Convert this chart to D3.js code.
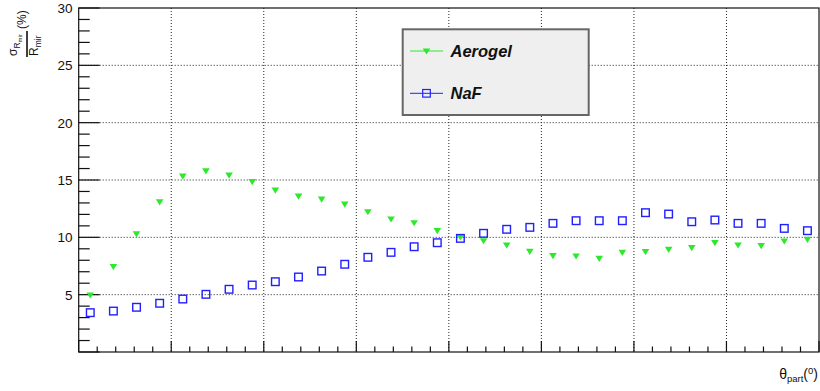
<!DOCTYPE html>
<html>
<head>
<meta charset="utf-8">
<script src="https://cdn.jsdelivr.net/npm/d3@7"></script>
<style>
  html, body { margin: 0; padding: 0; background: #fff; }
  svg { display: block; }
  text { font-family: "Liberation Sans", Arial, Helvetica, sans-serif; }
</style>
</head>
<body>
<svg id="chart" width="820" height="391"></svg>
<script>
// Bin centres along the particle angle axis
const thetaBins = [0.5, 1.5, 2.5, 3.5, 4.5, 5.5, 6.5, 7.5, 8.5, 9.5, 10.5, 11.5, 12.5, 13.5, 14.5, 15.5,
                   16.5, 17.5, 18.5, 19.5, 20.5, 21.5, 22.5, 23.5, 24.5, 25.5, 26.5, 27.5, 28.5, 29.5, 30.5, 31.5];
// Relative mirror-radius resolution (%) per radiator
const aerogelRes = [4.97, 7.44, 10.3, 13.1, 15.34, 15.8, 15.43, 14.85, 14.12, 13.6, 13.34, 12.9, 12.23, 11.6, 11.27, 10.58,
                    10.03, 9.7, 9.33, 8.77, 8.4, 8.37, 8.17, 8.69, 8.75, 8.95, 9.1, 9.53, 9.33, 9.27, 9.68, 9.83];
const nafRes = [3.43, 3.57, 3.9, 4.25, 4.62, 5.03, 5.47, 5.84, 6.13, 6.54, 7.06, 7.65, 8.26, 8.69, 9.18, 9.53,
                9.91, 10.35, 10.7, 10.87, 11.22, 11.45, 11.45, 11.45, 12.15, 12.03, 11.36, 11.51, 11.22, 11.22, 10.78, 10.58];
const yTickValues = [5, 10, 15, 20, 25, 30];
const xMajorTicks = [0, 4, 8, 12, 16, 20, 24, 28, 32];
const legendLabels = ["Aerogel", "NaF"];

const svg = d3.select("#chart");
const plotLeft = 78.7, plotRight = 819, plotTop = 8, plotBottom = 352;

const x = d3.scaleLinear().domain([0, 32]).range([plotLeft, plotRight]);
const y = d3.scaleLinear().domain([0, 30]).range([plotBottom, plotTop]);

const green = "#2ee82e", blue = "#2020ff";

// Dotted grid
const grid = svg.append("g");
grid.selectAll("line.gx").data(xMajorTicks.filter(d => d > 0 && d < 32)).join("line")
  .attr("class", "gx")
  .attr("x1", d => x(d)).attr("x2", d => x(d)).attr("y1", plotTop).attr("y2", plotBottom)
  .attr("stroke", "#222").attr("stroke-width", 1).attr("stroke-dasharray", "1 2");
grid.selectAll("line.gy").data(yTickValues.filter(d => d < 30)).join("line")
  .attr("class", "gy")
  .attr("x1", plotLeft).attr("x2", plotRight).attr("y1", d => y(d)).attr("y2", d => y(d))
  .attr("stroke", "#222").attr("stroke-width", 1).attr("stroke-dasharray", "1 2");

// Frame
svg.append("rect").attr("x", plotLeft).attr("y", plotTop)
  .attr("width", plotRight - plotLeft).attr("height", plotBottom - plotTop)
  .attr("fill", "none").attr("stroke", "#111").attr("stroke-width", 1.2);

// Y axis: major every 5, minor every 1, ticks point inward
const yAxis = svg.append("g");
const yMinor = d3.range(0, 31, 1);
yAxis.selectAll("line").data(yMinor).join("line")
  .attr("x1", plotLeft).attr("x2", d => plotLeft + (d % 5 === 0 ? 21 : 11))
  .attr("y1", d => y(d)).attr("y2", d => y(d))
  .attr("stroke", "#111").attr("stroke-width", 1.2);
yAxis.selectAll("text").data(yTickValues).join("text")
  .attr("x", 72.5).attr("y", d => y(d)).attr("dy", "0.36em")
  .attr("text-anchor", "end").attr("font-size", 13.5).attr("fill", "#111")
  .text(d => d);

// X axis: five subdivisions per major division, no labels
const xAxis = svg.append("g");
const xMinor = d3.range(0, 32.01, 0.8);
xAxis.selectAll("line").data(xMinor).join("line")
  .attr("x1", d => x(d)).attr("x2", d => x(d))
  .attr("y1", plotBottom).attr("y2", (d, i) => plotBottom - (i % 5 === 0 ? 11 : 5.5))
  .attr("stroke", "#111").attr("stroke-width", 1.2);

// Markers
const triPath = "M-3.8,-2.6 L3.8,-2.6 L0,3.6 Z";
svg.append("g").selectAll("path").data(thetaBins).join("path")
  .attr("transform", (d, i) => `translate(${x(d)},${y(aerogelRes[i])})`)
  .attr("d", triPath).attr("fill", green);

svg.append("g").selectAll("rect").data(thetaBins).join("rect")
  .attr("x", d => x(d) - 3.8).attr("y", (d, i) => y(nafRes[i]) - 3.8)
  .attr("width", 7.6).attr("height", 7.6)
  .attr("fill", "none").attr("stroke", blue).attr("stroke-width", 1.4);

// Legend
const lg = svg.append("g");
lg.append("rect").attr("x", 402.7).attr("y", 29.3).attr("width", 186).attr("height", 85.7)
  .attr("fill", "#efefef").attr("stroke", "#666").attr("stroke-width", 2);
const rows = [
  { label: legendLabels[0], color: green, cy: 51, kind: "tri" },
  { label: legendLabels[1], color: blue, cy: 93.3, kind: "sq" }
];
rows.forEach(r => {
  lg.append("line").attr("x1", 410).attr("x2", 443).attr("y1", r.cy).attr("y2", r.cy)
    .attr("stroke", r.color).attr("stroke-width", 1);
  if (r.kind === "tri") {
    lg.append("path").attr("transform", `translate(426.5,${r.cy})`).attr("d", triPath).attr("fill", r.color);
  } else {
    lg.append("rect").attr("x", 426.5 - 3.8).attr("y", r.cy - 3.8).attr("width", 7.6).attr("height", 7.6)
      .attr("fill", "none").attr("stroke", r.color).attr("stroke-width", 1.2);
  }
  lg.append("text").attr("x", 450.5).attr("y", r.cy + 5.5)
    .attr("font-size", 16.5).attr("font-weight", "bold").attr("font-style", "italic").attr("fill", "#111")
    .text(r.label);
});

// X axis title: θ_part(⁰)
const xt = svg.append("text").attr("x", 818).attr("y", 379).attr("text-anchor", "end")
  .attr("fill", "#111").attr("font-size", 14);
xt.append("tspan").text("θ");
xt.append("tspan").attr("font-size", 9.5).attr("dy", 3).text("part");
xt.append("tspan").attr("dy", -3).text("(");
xt.append("tspan").attr("font-size", 9.5).attr("dy", -5).text("0");
xt.append("tspan").attr("dy", 5).text(")");

// Y axis title: σ_{R_mir} / R_mir (%), rotated fraction
const yt = svg.append("g").attr("transform", "translate(27,57) rotate(-90)").attr("fill", "#111");
yt.append("line").attr("x1", 0).attr("x2", 26).attr("y1", 0).attr("y2", 0)
  .attr("stroke", "#111").attr("stroke-width", 1.6);
const num = yt.append("text").attr("x", 1).attr("y", -10).attr("font-size", 12);
num.append("tspan").text("σ");
num.append("tspan").attr("font-size", 8.5).attr("dy", 3).text("R");
num.append("tspan").attr("font-size", 6).attr("dy", 2).text("mir");
const den = yt.append("text").attr("x", 1).attr("y", 11).attr("font-size", 12);
den.append("tspan").text("R");
den.append("tspan").attr("font-size", 8.5).attr("dy", 3).text("mir");
yt.append("text").attr("x", 28).attr("y", -1).attr("font-size", 12).text("(%)");
</script>
</body>
</html>
